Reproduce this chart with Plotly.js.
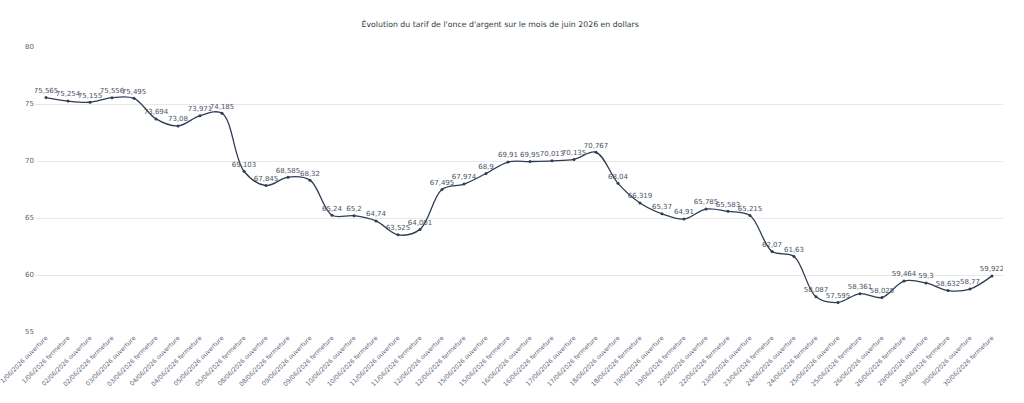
<!DOCTYPE html>
<html>
<head>
<meta charset="utf-8">
<script src="https://cdn.plot.ly/plotly-3.0.1.min.js"></script>
<style>html,body{margin:0;padding:0;background:#fff;}#chart{width:1024px;height:403px;}</style>
</head>
<body>
<div id="chart"></div>
<script>
const categories = [
  "1/06/2026 ouverture","1/06/2026 fermeture",
  "02/06/2026 ouverture","02/06/2026 fermeture",
  "03/06/2026 ouverture","03/06/2026 fermeture",
  "04/06/2026 ouverture","04/06/2026 fermeture",
  "05/06/2026 ouverture","05/06/2026 fermeture",
  "08/06/2026 ouverture","08/06/2026 fermeture",
  "09/06/2026 ouverture","09/06/2026 fermeture",
  "10/06/2026 ouverture","10/06/2026 fermeture",
  "11/06/2026 ouverture","11/06/2026 fermeture",
  "12/06/2026 ouverture","12/06/2026 fermeture",
  "15/06/2026 ouverture","15/06/2026 fermeture",
  "16/06/2026 ouverture","16/06/2026 fermeture",
  "17/06/2026 ouverture","17/06/2026 fermeture",
  "18/06/2026 ouverture","18/06/2026 fermeture",
  "19/06/2026 ouverture","19/06/2026 fermeture",
  "22/06/2026 ouverture","22/06/2026 fermeture",
  "23/06/2026 ouverture","23/06/2026 fermeture",
  "24/06/2026 ouverture","24/06/2026 fermeture",
  "25/06/2026 ouverture","25/06/2026 fermeture",
  "26/06/2026 ouverture","26/06/2026 fermeture",
  "29/06/2026 ouverture","29/06/2026 fermeture",
  "30/06/2026 ouverture","30/06/2026 fermeture"
];
const prices = [
  75.565, 75.254, 75.155, 75.556, 75.495, 73.694, 73.08, 73.971, 74.185, 69.103,
  67.845, 68.585, 68.32, 65.24, 65.2, 64.74, 63.525, 64.001, 67.495, 67.974,
  68.9, 69.91, 69.95, 70.013, 70.135, 70.767, 68.04, 66.319, 65.37, 64.91,
  65.785, 65.583, 65.215, 62.07, 61.63, 58.087, 57.595, 58.361, 58.025, 59.464,
  59.3, 58.632, 58.77, 59.922
];
const yTicks = [55, 60, 65, 70, 75, 80];
const titleText = "Évolution du tarif de l'once d'argent sur le mois de juin 2026 en dollars";

const labels = prices.map(v => String(v).replace('.', ','));
const FONT = "DejaVu Sans, Verdana, sans-serif";

const trace = {
  x: categories,
  y: prices,
  text: labels,
  type: 'scatter',
  mode: 'lines+markers+text',
  textposition: 'top center',
  textfont: {family: FONT, size: 7, color: '#4a5366'},
  line: {shape: 'spline', color: '#2e3d52', width: 1.3},
  marker: {size: 3, color: '#2e3d52'},
  hoverinfo: 'x+y'
};

const layout = {
  width: 1024, height: 403,
  margin: {l: 35, r: 21, t: 47, b: 71},
  paper_bgcolor: '#fff', plot_bgcolor: '#fff',
  separators: ', ',
  font: {family: FONT, size: 7, color: '#4a5366'},
  title: {text: titleText, xref: 'container', x: 0.4885, xanchor: 'center',
          yref: 'container', y: 0.94, yanchor: 'middle',
          font: {family: FONT, size: 7.8, color: '#333a45'}},
  showlegend: false,
  xaxis: {
    type: 'category',
    range: [-0.5, categories.length - 0.5],
    tickangle: -45,
    tickfont: {family: FONT, size: 6.2, color: '#5b6475'},
    showgrid: false, zeroline: false, showline: false,
    ticks: ''
  },
  yaxis: {
    range: [55, 80],
    tickvals: yTicks,
    ticktext: yTicks.map(String),
    tickfont: {family: FONT, size: 7, color: '#5b6475'},
    gridcolor: '#e8e8e8', gridwidth: 1,
    zeroline: false, showline: false, ticks: ''
  }
};

Plotly.newPlot('chart', [trace], layout, {displayModeBar: false, staticPlot: true});
</script>
</body>
</html>
